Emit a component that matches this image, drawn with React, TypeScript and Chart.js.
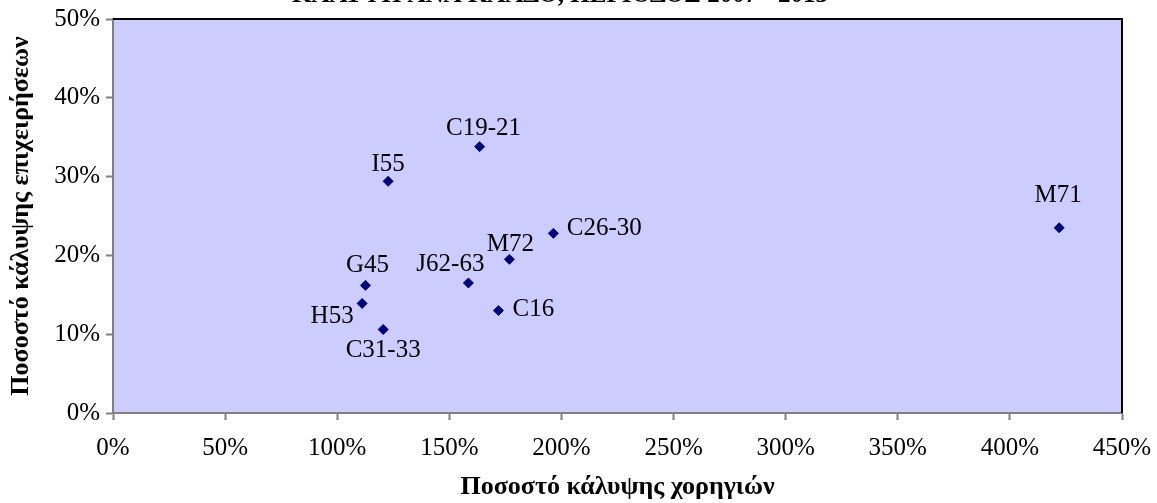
import React, { useEffect, useRef } from "react";
import { Chart, registerables } from "chart.js";

Chart.register(...registerables);

const chartTitle = "ΚΑΛΥΨΗ ΑΝΑ ΚΛΑΔΟ, ΠΕΡΙΟΔΟΣ 2007 - 2013";
const xAxisTitle = "Ποσοστό κάλυψης χορηγιών";
const yAxisTitle = "Ποσοστό κάλυψης επιχειρήσεων";

const sectors = ["C19-21", "I55", "C26-30", "M72", "J62-63", "C16", "C31-33", "G45", "H53", "M71"];
const grantCoverage = [163.5, 122.7, 196.4, 176.8, 158.5, 171.9, 120.5, 112.6, 111.1, 422.0];
const firmCoverage = [33.8, 29.4, 22.8, 19.5, 16.5, 13.0, 10.6, 16.2, 13.9, 23.5];

const xTicks = [0, 50, 100, 150, 200, 250, 300, 350, 400, 450];
const yTicks = [0, 10, 20, 30, 40, 50];

// label placement: offset of text centre from the marker
const labelOffsets: Record<string, [number, number]> = {
  "C19-21": [4, -18],
  I55: [0, -17],
  "C26-30": [51, -5],
  M72: [1, -15],
  "J62-63": [-18, -19],
  C16: [35, -1],
  "C31-33": [0, 21],
  G45: [2, -20],
  H53: [-30, 13],
  M71: [-1, -32],
};

const FONT = "'Liberation Serif', 'Times New Roman', serif";

const plotDecor = {
  id: "plotDecor",
  beforeDraw(chart: any) {
    const { ctx, chartArea: a } = chart;
    ctx.save();
    ctx.fillStyle = "#CCCCFF";
    ctx.fillRect(a.left, a.top, a.right - a.left, a.bottom - a.top);
    ctx.restore();
  },
  afterDraw(chart: any) {
    const { ctx, chartArea: a } = chart;
    ctx.save();
    ctx.strokeStyle = "#000000";
    ctx.lineWidth = 2;
    ctx.beginPath();
    ctx.moveTo(a.left, a.top);
    ctx.lineTo(a.right, a.top);
    ctx.lineTo(a.right, a.bottom);
    ctx.stroke();
    // cut-off title
    ctx.fillStyle = "#000";
    ctx.font = `bold 25px ${FONT}`;
    ctx.textAlign = "center";
    ctx.textBaseline = "alphabetic";
    ctx.fillText(chartTitle, 560, 2);
    ctx.restore();
  },
  afterDatasetsDraw(chart: any) {
    const { ctx } = chart;
    const meta = chart.getDatasetMeta(0);
    ctx.save();
    ctx.fillStyle = "#000";
    ctx.font = `25px ${FONT}`;
    ctx.textAlign = "center";
    ctx.textBaseline = "middle";
    meta.data.forEach((pt: any, i: number) => {
      const name = sectors[i];
      const off = labelOffsets[name] || [0, -18];
      ctx.fillText(name, pt.x + off[0], pt.y + off[1]);
    });
    ctx.restore();
  },
};

export default function App() {
  const ref = useRef<HTMLCanvasElement>(null);
  useEffect(() => {
    document.body.style.margin = "0";
    const canvas = ref.current!;
    const chart = new Chart(canvas, {
      type: "scatter",
      data: {
        datasets: [
          {
            label: "Κλάδοι",
            data: sectors.map((_, i) => ({ x: grantCoverage[i], y: firmCoverage[i] })),
            pointStyle: "rectRot",
            pointRadius: 5,
            pointHoverRadius: 5,
            backgroundColor: "#000080",
            borderColor: "#000080",
            borderWidth: 1,
          },
        ],
      },
      options: {
        animation: false,
        responsive: false,
        maintainAspectRatio: false,
        layout: { padding: { top: 19, right: 35, left: 0, bottom: 0 } },
        plugins: {
          legend: { display: false },
          tooltip: { enabled: false },
          title: { display: false },
        },
        scales: {
          x: {
            type: "linear",
            min: 0,
            max: 450,
            afterBuildTicks: (s: any) => {
              s.ticks = xTicks.map((v) => ({ value: v }));
            },
            afterFit: (s: any) => {
              s.height = 90;
              s.paddingLeft = 0;
              s.paddingRight = 0;
            },
            grid: {
              drawOnChartArea: false,
              drawTicks: true,
              tickLength: 7,
              tickColor: "#808080",
              tickWidth: 2,
            },
            border: { color: "#808080", width: 2 },
            ticks: {
              color: "#000",
              font: { family: FONT, size: 25 },
              padding: 13,
              maxRotation: 0,
              callback: (v: any) => `${v}%`,
            },
            title: {
              display: true,
              text: xAxisTitle,
              color: "#000",
              font: { family: FONT, size: 26, weight: "bold" },
              padding: { top: 14, bottom: 0 },
            },
          },
          y: {
            type: "linear",
            min: 0,
            max: 50,
            afterBuildTicks: (s: any) => {
              s.ticks = yTicks.map((v) => ({ value: v }));
            },
            afterFit: (s: any) => {
              s.width = 113;
              s.paddingTop = 0;
              s.paddingBottom = 0;
            },
            grid: {
              drawOnChartArea: false,
              drawTicks: true,
              tickLength: 7,
              tickColor: "#808080",
              tickWidth: 2,
            },
            border: { color: "#808080", width: 2 },
            ticks: {
              color: "#000",
              font: { family: FONT, size: 25 },
              padding: 6,
              callback: (v: any) => `${v}%`,
            },
            title: {
              display: true,
              text: yAxisTitle,
              color: "#000",
              font: { family: FONT, size: 26, weight: "bold" },
              padding: { top: 6, bottom: 0 },
            },
          },
        },
      },
      plugins: [plotDecor],
    });
    return () => chart.destroy();
  }, []);
  return (
    <div style={{ width: 1157, height: 503 }}>
      <canvas ref={ref} width={1157} height={503} style={{ display: "block" }} />
    </div>
  );
}
